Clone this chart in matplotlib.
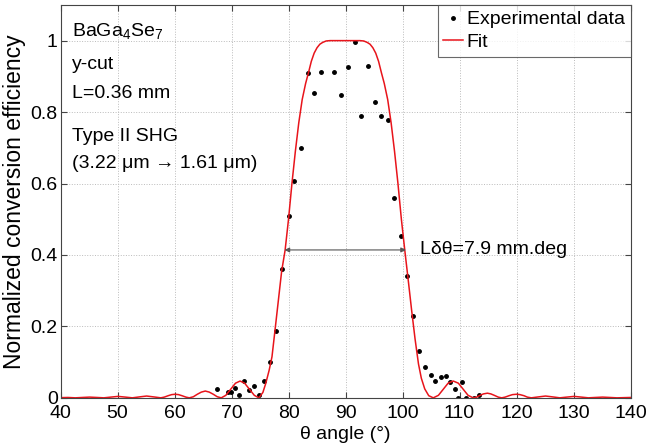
import numpy as np
import matplotlib
matplotlib.use("Agg")
import matplotlib.pyplot as plt

plt.rcParams['font.family'] = ['Liberation Sans', 'DejaVu Sans']
plt.rcParams['mathtext.fontset'] = 'custom'
plt.rcParams['mathtext.rm'] = 'Liberation Sans'
plt.rcParams['mathtext.it'] = 'Liberation Sans:italic'

exp_theta = [67.40, 69.44, 69.97, 70.61, 71.37, 72.17, 73.07, 73.89, 74.77, 75.70,
             76.75, 77.75, 78.86, 80.03, 80.96, 82.14, 83.37, 84.47, 85.65, 88.04,
             89.15, 90.39, 91.61, 92.78, 93.95, 95.12, 96.28, 97.46, 98.51, 99.74,
             100.85, 101.84, 102.89, 103.95, 104.95, 105.75, 106.70, 107.58, 108.39,
             109.16, 109.79, 110.44, 111.09, 112.60, 113.42]
exp_eff = [0.025, 0.016, 0.016, 0.028, 0.007, 0.047, 0.022, 0.034, 0.008, 0.047,
           0.101, 0.186, 0.361, 0.510, 0.608, 0.699, 0.909, 0.852, 0.913, 0.911,
           0.849, 0.926, 0.997, 0.788, 0.930, 0.828, 0.788, 0.777, 0.560, 0.452,
           0.342, 0.228, 0.131, 0.087, 0.065, 0.047, 0.057, 0.060, 0.043,
           0.025, 0.0, 0.044, 0.0, 0.0, 0.009]

# fit curve
fit_theta = [40.0, 41.3, 42.6, 43.8, 45.1, 46.4, 47.6, 48.8, 50.1, 51.4, 52.6,
             53.8, 55.1, 56.4, 57.6, 58.2, 58.9, 59.5, 60.1, 60.7, 61.3, 62.0, 62.6,
             63.3, 64.0, 64.7, 65.4, 66.1, 66.8, 67.5, 68.2,
             69.0, 69.9, 70.7, 71.5, 72.3, 73.1, 74.0, 74.8,
             75.5, 76.0, 76.6, 77.1, 77.6, 78.2, 78.8, 79.4, 80.0, 80.6, 81.2,
             81.8, 82.4, 83.0, 83.5, 84.0, 84.5, 85.0, 85.5, 86.0, 86.6, 87.3,
             92.5, 93.2, 93.8, 94.3, 94.8, 95.3, 95.8, 96.3, 96.8, 97.4, 98.0, 98.6, 99.2,
             99.8, 100.4, 101.0, 101.6, 102.2, 102.8, 103.3, 103.9, 104.6, 105.4,
             106.3, 107.2, 108.0, 108.9, 109.8, 110.6, 111.5, 112.4,
             113.0, 113.6, 114.2, 114.9, 115.5, 116.1, 116.8, 117.4,
             118.0, 118.7, 119.3, 120.0, 120.6, 121.3, 121.9, 122.6,
             123.8, 125.1, 126.4, 127.6, 128.8, 130.1, 131.4, 132.6,
             133.8, 135.1, 136.4, 137.6, 138.8, 140.0]
fit_eff = [0.0005, 0.001, 0.0, 0.001, 0.002, 0.001, 0.0, 0.002, 0.004, 0.002, 0.0,
           0.0025, 0.005, 0.0025, 0.0, 0.002, 0.006, 0.009, 0.010, 0.009, 0.006, 0.002, 0.0,
           0.003, 0.010, 0.016, 0.019, 0.016, 0.010, 0.003, 0.0,
           0.007, 0.025, 0.041, 0.047, 0.041, 0.025, 0.007, 0.0,
           0.015, 0.040, 0.077, 0.115, 0.185, 0.27, 0.355, 0.413, 0.50, 0.60, 0.69,
           0.77, 0.835, 0.88, 0.91, 0.942, 0.965, 0.980, 0.990, 0.995, 0.999, 1.0,
           1.0, 0.999, 0.995, 0.990, 0.980, 0.965, 0.942, 0.91, 0.88, 0.835, 0.77, 0.69, 0.60,
           0.50, 0.413, 0.33, 0.245, 0.165, 0.095, 0.055, 0.025, 0.006, 0.0,
           0.007, 0.025, 0.041, 0.047, 0.041, 0.025, 0.007, 0.0,
           0.002, 0.007, 0.011, 0.013, 0.011, 0.007, 0.002, 0.0,
           0.002, 0.006, 0.009, 0.010, 0.009, 0.006, 0.002, 0.0,
           0.0025, 0.005, 0.0025, 0.0, 0.002, 0.004, 0.002, 0.0,
           0.001, 0.002, 0.001, 0.0, 0.0005, 0.001]

fwhm_left, fwhm_right, fwhm_level = 79.3, 100.6, 0.414

fig = plt.figure(figsize=(6.48, 4.45), dpi=100)
ax = fig.add_axes([0.0934, 0.106, 0.8796, 0.883])

ax.plot(exp_theta, exp_eff, 'k.', markersize=5, label='Experimental data')
ax.plot(fit_theta, fit_eff, color='#e8141b', linewidth=1.1, label='Fit')

ax.annotate('', xy=(fwhm_left, fwhm_level), xytext=(fwhm_right, fwhm_level),
            arrowprops=dict(arrowstyle='<|-|>', color='#555555', lw=0.8,
                            mutation_scale=7, shrinkA=0, shrinkB=0))
ax.text(103.1, fwhm_level, 'L\u03b4\u03b8=7.9 mm.deg', fontsize=14, va='center')

ax.text(41.96, 1.012, 'BaGa$_4$Se$_7$', fontsize=14, va='baseline')
ax.text(41.96, 0.920, 'y-cut', fontsize=14, va='baseline')
ax.text(41.96, 0.839, 'L=0.36 mm', fontsize=14, va='baseline')
ax.text(41.96, 0.719, 'Type II SHG', fontsize=14, va='baseline')
ax.text(41.96, 0.644, '(3.22 \u03bcm \u2192 1.61 \u03bcm)', fontsize=14, va='baseline')

ax.set_xlim(40, 140)
ax.set_ylim(0, 1.1)
ax.set_xticks(np.arange(40, 141, 10))
ax.set_yticks([0, 0.2, 0.4, 0.6, 0.8, 1.0])
ax.set_yticklabels(['0', '0.2', '0.4', '0.6', '0.8', '1'])
ax.tick_params(direction='in', top=True, right=True, length=4, labelsize=14, pad=2,
               color='#444444')
ax.tick_params(axis='x', pad=5)
ax.grid(True, linestyle=':', color='#bbbbbb', linewidth=0.7)
for s in ax.spines.values():
    s.set_color('#444444')
    s.set_linewidth(0.8)

ax.set_xlabel('\u03b8 angle (\u00b0)', fontsize=14, labelpad=3)
ax.set_ylabel('Normalized conversion efficiency', fontsize=16.5, labelpad=3)

leg = ax.legend(loc='upper right', fontsize=14, frameon=True, fancybox=False,
                borderaxespad=0, handlelength=1.0, handletextpad=0.2,
                borderpad=0.3, labelspacing=0.25)
leg.get_frame().set_edgecolor('#444444')
leg.get_frame().set_linewidth(0.8)

fig.savefig('out.png', dpi=100)
